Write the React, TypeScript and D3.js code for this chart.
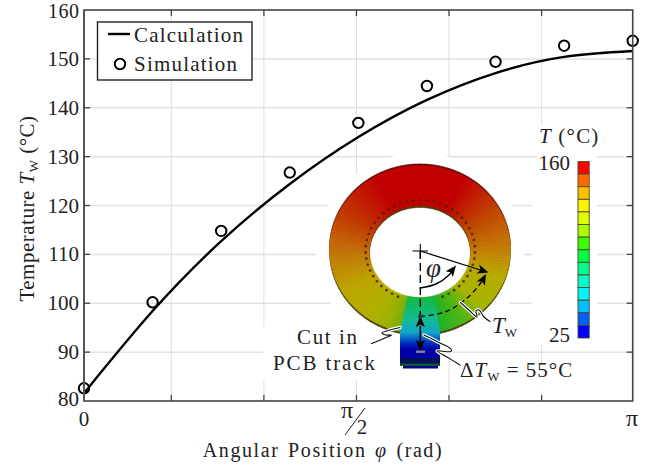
import React from "react";
import * as d3 from "d3";

const PI = Math.PI;
const phiAngles = [0, PI / 8, PI / 4, (3 * PI) / 8, PI / 2, (5 * PI) / 8, (3 * PI) / 4, (7 * PI) / 8, PI];
const calcTemps = [81.6, 98.4, 112.7, 124.4, 134.0, 141.6, 147.1, 150.4, 151.6];
const simTemps = [82.6, 100.2, 114.8, 126.75, 136.9, 144.45, 149.4, 152.7, 153.7];
const xTickValues = [0, 0.5, 1.03, 1.56, 2.09, 2.62, PI];
const yTickValues = [80, 90, 100, 110, 120, 130, 140, 150, 160];
const barColors = ["#ff0000", "#ff6a00", "#ffbf00", "#fff200", "#dfff00", "#aaff00", "#3cff00", "#00ff40", "#00ff90", "#00ffcc", "#00f5ff", "#00bfff", "#0060ff", "#0000ff"];
const ringAngles = [-180, -150, -120, -90, -60, -35, -20, 0, 15, 30, 45, 70, 90, 120, 150, 180];
const ringColors = ["#c40000", "#c40202", "#c43402", "#c6720a", "#c0a800", "#b4b400", "#98b408", "#30b020", "#22b428", "#50b818", "#a8b800", "#baae00", "#c68208", "#c44602", "#c40202", "#c40000"];

const SERIF = "'Liberation Serif', 'DejaVu Serif', serif";
const W = 660, H = 467;
const L = 84, R = 632.7, T = 10, B = 401;

const x = d3.scaleLinear().domain([0, PI]).range([L, R]);
const y = d3.scaleLinear().domain([80, 160]).range([B, T]);
const line = d3.line<number>().x((_, i) => x(phiAngles[i])).y((d) => y(d)).curve(d3.curveNatural);
const ringColor = d3.scaleLinear<string>().domain(ringAngles).range(ringColors).interpolate(d3.interpolateRgb);

const smooth = d3.line<[number, number]>().curve(d3.curveCatmullRom.alpha(0.5));

const pt = (deg: number, cx: number, cy: number, rx: number, ry: number): [number, number] => {
  const a = (deg * PI) / 180;
  return [cx + rx * Math.sin(a), cy + ry * Math.cos(a)];
};
const wedgeDegs = d3.range(-180, 180, 2);

function Ring() {
  const wedge = (a: number, b: number, dy: number) => {
    const p = [pt(a, 420, 249.5 + dy, 90.5, 84), pt(b, 420, 249.5 + dy, 90.5, 84), pt(b, 420, 251.5 + dy, 50.5, 46), pt(a, 420, 251.5 + dy, 50.5, 46)];
    return "M" + p.map((q) => q.join(",")).join("L") + "Z";
  };
  return (
    <g>
      {wedgeDegs.map((a) => (
        <path key={"s" + a} d={wedge(a, a + 2, 2)} fill="#4a3a08" stroke="#4a3a08" strokeWidth={0.5} />
      ))}
      {wedgeDegs.filter((a) => Math.abs(a) > 90).map((a) => (
        <path key={"h" + a} d={wedge(a, a + 2, -1.6)} fill="#5a0808" stroke="#5a0808" strokeWidth={0.5} />
      ))}
      {wedgeDegs.map((a) => (
        <path key={a} d={wedge(a, a + 2, 0)} fill={ringColor(a + 1)} stroke={ringColor(a + 1)} strokeWidth={0.5} />
      ))}
      {d3.range(0, 45).map((i) => {
        const a = 24 + i * (312 / 44);
        const [cx, cy] = pt(a, 420.3, 250.5, 54.7, 50.5);
        return <circle key={i} cx={cx} cy={cy} r={1.35} fill="#4a2208" opacity={0.85} />;
      })}
    </g>
  );
}

function Leader({ pts }: { pts: [number, number][] }) {
  const d = smooth(pts) as string;
  return (
    <g fill="none" strokeLinecap="round">
      <path d={d} stroke="#fff" strokeWidth={3.4} />
      <path d={d} stroke="#111" strokeWidth={1.1} />
    </g>
  );
}

function Head({ x: hx, y: hy, angle }: { x: number; y: number; angle: number }) {
  return <path d="M0,0L-11,-4.6L-8.5,0L-11,4.6Z" fill="#000" transform={`translate(${hx},${hy}) rotate(${angle})`} />;
}

export default function App() {
  const ink = "#222";
  return (
    <svg width={W} height={H} viewBox={`0 0 ${W} ${H}`} style={{ position: "absolute", left: 0, top: 0, background: "#fff" }} fontFamily={SERIF}>
      <defs>
        <linearGradient id="track" x1="0" x2="0" y1="0" y2="1">
          <stop offset="0" stopColor="#14b83a" />
          <stop offset="0.32" stopColor="#12bc90" />
          <stop offset="0.52" stopColor="#10a8c8" />
          <stop offset="0.66" stopColor="#0038c0" />
          <stop offset="0.76" stopColor="#0000a8" />
          <stop offset="0.88" stopColor="#0000a0" />
          <stop offset="0.89" stopColor="#001058" />
          <stop offset="0.96" stopColor="#001058" />
          <stop offset="0.97" stopColor="#0a5a30" />
          <stop offset="1" stopColor="#0a5a30" />
        </linearGradient>
      </defs>

      {yTickValues.slice(1, -1).map((v) => (
        <line key={v} x1={L} x2={R} y1={y(v)} y2={y(v)} stroke="#e2e2e2" strokeWidth={1.5} />
      ))}
      {xTickValues.slice(1, -1).map((v) => (
        <line key={v} x1={x(v)} x2={x(v)} y1={T} y2={B} stroke="#dedede" strokeWidth={1} />
      ))}

      <g fill="#fff">
        <ellipse cx={420} cy={252} rx={104} ry={99} />
        <rect x={263} y={327} width={177} height={53} />
        <rect x={537} y={125} width={60} height={220} />
        <rect x={532} y={160} width={8} height={180} />
        <rect x={455} y={365} width={130} height={26} />
      </g>

      <path d={line(calcTemps) as string} fill="none" stroke="#000" strokeWidth={2.4} />
      {simTemps.map((v, i) => (
        <circle key={i} cx={x(phiAngles[i])} cy={y(v)} r={5.2} fill="none" stroke="#000" strokeWidth={2} />
      ))}

      <Ring />
      <path d="M407.5,296C415,298 428,298 435,296L440,333L440,366L400,366L400,333Z" fill="url(#track)" />
      <path d="M403,366H438V368.5H403Z" fill="#00008a" />

      <g stroke="#000" fill="none" strokeWidth={1.3}>
        <path d="M412.5,251H428M420.3,244V258" strokeWidth={1.1} />
        <path d="M420.3,251V316" strokeDasharray="8 4" strokeWidth={1.4} />
        <path d="M420.3,251L482,270.5" />
        <path d={smooth([[420.3, 288], [436, 284], [449, 275], [454, 268]]) as string} strokeWidth={1.4} />
        <path d={smooth([[420.3, 316.5], [445, 312], [466, 299], [480, 284], [484, 277]]) as string} strokeDasharray="5 3.5" strokeWidth={1.3} />
        <path d="M420.3,326V344" strokeWidth={1.6} />
      </g>
      <Head x={488.5} y={272.5} angle={17.5} />
      <Head x={456} y={265.5} angle={-52} />
      <Head x={486} y={274} angle={-62} />
      <Head x={420.3} y={316} angle={-90} />
      <Head x={420.3} y={351} angle={90} />
      <circle cx={420.3} cy={316.5} r={2.2} fill="#333" />
      <rect x={416} y={350.5} width={9} height={2.4} fill="#888" />

      <Leader pts={[[460.5, 302.5], [470, 311], [477, 317], [476, 311], [479, 310], [484, 317], [490, 321.5]]} />
      <Leader pts={[[371.5, 343.5], [385, 338], [391.5, 335], [386, 335], [382, 333], [388, 330.5], [400, 327.5]]} />
      <Leader pts={[[424, 335], [438, 342], [451, 349], [451, 351.5], [437, 351], [447, 357], [460, 365]]} />

      {barColors.map((c, i) => {
        const h = (338 - 161.5) / barColors.length;
        return <rect key={i} x={578} y={161.5 + i * h} width={11.2} height={h} fill={c} stroke="#4a4a2a" strokeWidth={0.9} />;
      })}

      <g fill={ink} fontSize={21}>
        <text x={539} y={143} letterSpacing={1.2}>
          <tspan fontStyle="italic">T</tspan> (°C)
        </text>
        <text x={570} y={170} textAnchor="end">160</text>
        <text x={570} y={342} textAnchor="end">25</text>
        <text x={297} y={344} textLength={60}>Cut in</text>
        <text x={273} y={370} textLength={102}>PCB track</text>
        <text x={492} y={333}>
          <tspan fontStyle="italic" fontSize={23}>T</tspan>
          <tspan fontSize={13} dy={4}>W</tspan>
        </text>
        <text x={460} y={377} letterSpacing={1}>
          Δ<tspan fontStyle="italic">T</tspan>
          <tspan fontSize={13} dy={4}>W</tspan>
          <tspan dy={-4}> = 55°C</tspan>
        </text>
        <text x={426} y={277} fontStyle="italic" fontSize={27}>φ</text>
      </g>

      <g stroke="#444" fill="none">
        <rect x={L} y={T} width={R - L} height={B - T} strokeWidth={1.6} />
        <line x1={L} x2={L} y1={T} y2={B} strokeWidth={2} stroke="#555" />
        {yTickValues.slice(1, -1).map((v) => (
          <g key={v}>
            <line x1={L} x2={L + 6} y1={y(v)} y2={y(v)} strokeWidth={1.3} />
            <line x1={R - 6} x2={R} y1={y(v)} y2={y(v)} strokeWidth={1.3} />
          </g>
        ))}
        {xTickValues.slice(1, -1).map((v) => (
          <g key={v}>
            <line y1={T} y2={T + 6} x1={x(v)} x2={x(v)} strokeWidth={1.3} />
            <line y1={B - 6} y2={B} x1={x(v)} x2={x(v)} strokeWidth={1.3} />
          </g>
        ))}
      </g>

      <g fill={ink} fontSize={21}>
        {yTickValues.map((v) =>
          v === 160 ? (
            <text key={v} x={79} y={18} fontSize={20} textLength={31} textAnchor="end">{v}</text>
          ) : (
            <text key={v} x={79} y={y(v) + (v === 80 ? 5 : 7)} textAnchor="end">{v}</text>
          )
        )}
        <text x={84} y={426} textAnchor="middle">0</text>
        <text x={347} y={418} textAnchor="middle" fontSize={24}>π</text>
        <text x={362} y={434} textAnchor="middle">2</text>
        <text x={632} y={426} textAnchor="middle" fontSize={24}>π</text>
      </g>
      <line x1={365} x2={345} y1={408} y2={435} stroke={ink} strokeWidth={1} />

      <text x={323} y={456.5} textAnchor="middle" fontSize={20} fill={ink} letterSpacing={1.6} wordSpacing={2}>
        Angular Position <tspan fontStyle="italic">φ</tspan>{"  "}(rad)
      </text>
      <text transform="translate(34,208.5) rotate(-90)" textAnchor="middle" fontSize={21} fill={ink} letterSpacing={0.5}>
        Temperature <tspan fontStyle="italic">T</tspan>
        <tspan fontSize={13} dy={4}>W</tspan>
        <tspan dy={-4}> (°C)</tspan>
      </text>

      <rect x={97.5} y={22} width={154.5} height={58} fill="#fff" stroke="#222" strokeWidth={1.4} />
      <line x1={108} x2={130} y1={34} y2={34} stroke="#000" strokeWidth={2.4} />
      <circle cx={120} cy={64} r={5.2} fill="none" stroke="#000" strokeWidth={2} />
      <text x={134} y={42} fontSize={21} fill={ink} textLength={109}>Calculation</text>
      <text x={134} y={71} fontSize={21} fill={ink} textLength={103}>Simulation</text>
    </svg>
  );
}
